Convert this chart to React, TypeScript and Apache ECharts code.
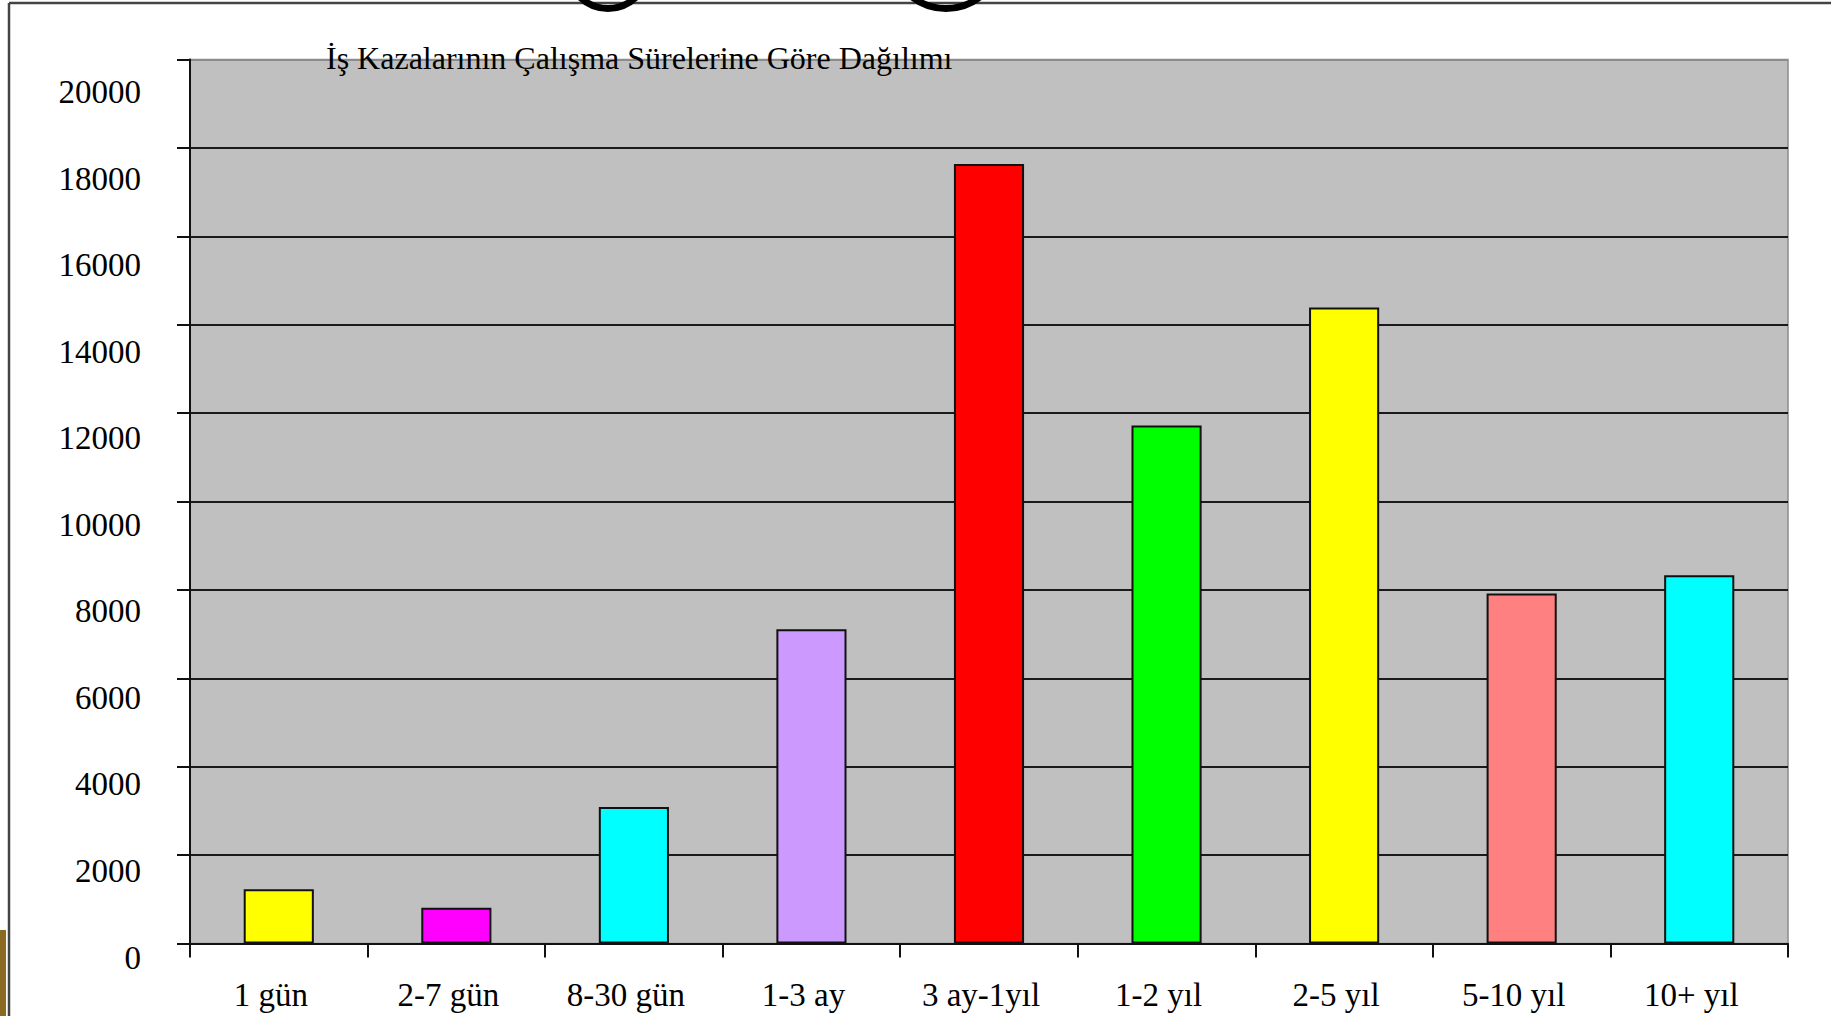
import React, { useEffect, useRef } from "react";
import * as echarts from "echarts";

const categories = ["1 gün", "2-7 gün", "8-30 gün", "1-3 ay", "3 ay-1yıl", "1-2 yıl", "2-5 yıl", "5-10 yıl", "10+ yıl"];
const values = [1225, 810, 3090, 7110, 17640, 11720, 14390, 7920, 8330];
const barColors = ["#FFFF00", "#FF00FF", "#00FFFF", "#CC99FF", "#FF0000", "#00FF00", "#FFFF00", "#FF8080", "#00FFFF"];
const chartTitle = "İş Kazalarının Çalışma Sürelerine Göre Dağılımı";
const yMin = 0;
const yMax = 20000;
const yStep = 2000;

export default function App() {
  const ref = useRef<HTMLDivElement>(null);
  useEffect(() => {
    if (!ref.current) return;
    const chart = echarts.init(ref.current, undefined, { renderer: "svg" });
    const serif = "'Liberation Serif', 'Times New Roman', serif";
    const gridColors = Array.from({ length: (yMax - yMin) / yStep + 1 }, (_, i) =>
      i === (yMax - yMin) / yStep ? "#8c8c8c" : "#1a1a1a"
    );
    chart.setOption({
      animation: false,
      backgroundColor: "#ffffff",
      textStyle: { fontFamily: serif },
      grid: [
        {
          left: 190,
          right: 43,
          top: 59.6,
          bottom: 72.5,
          show: true,
          backgroundColor: "#C0C0C0",
          borderColor: "#8c8c8c",
          borderWidth: 1.5,
        },
        {
          left: 190,
          right: 43,
          top: 92.2,
          bottom: 58.5,
          show: false,
        },
      ],
      xAxis: [
        {
          type: "category",
          gridIndex: 0,
          data: categories,
          axisLine: { show: true, lineStyle: { color: "#111", width: 2 } },
          axisTick: { show: true, length: 14, lineStyle: { color: "#111", width: 2 } },
          axisLabel: {
            interval: 0,
            color: "#000",
            fontFamily: serif,
            fontSize: 33,
            lineHeight: 33,
            margin: 35,
            padding: [0, 16, 0, 0],
          },
        },
        { type: "value", gridIndex: 1, min: 0, max: 1, show: false },
      ],
      yAxis: [
        {
          type: "value",
          gridIndex: 0,
          min: yMin,
          max: yMax,
          interval: yStep,
          axisLine: { show: true, lineStyle: { color: "#111", width: 2 } },
          axisTick: { show: true, length: 13, lineStyle: { color: "#111", width: 2 } },
          axisLabel: { show: false },
          splitLine: { show: true, lineStyle: { color: gridColors, width: 2 } },
        },
        {
          type: "value",
          gridIndex: 1,
          min: yMin,
          max: yMax,
          interval: yStep,
          axisLine: { show: false },
          axisTick: { show: false },
          splitLine: { show: false },
          axisLabel: {
            color: "#000",
            fontFamily: serif,
            fontSize: 33,
            margin: 49,
            formatter: (v: number) => String(v),
          },
        },
      ],
      series: [
        {
          type: "bar",
          xAxisIndex: 0,
          yAxisIndex: 0,
          barWidth: "39.5%",
          data: values.map((v, i) => ({
            value: v,
            itemStyle: { color: barColors[i], borderColor: "#111", borderWidth: 2 },
          })),
        },
      ],
      graphic: [
        {
          type: "line",
          shape: { x1: 9, y1: 3, x2: 9, y2: 1016 },
          style: { stroke: "#444", lineWidth: 2.5 },
        },
        {
          type: "line",
          shape: { x1: 9, y1: 3, x2: 1831, y2: 3 },
          style: { stroke: "#444", lineWidth: 2.5 },
        },
        {
          type: "arc",
          shape: { cx: 608, cy: -31.5, r: 40, startAngle: 0, endAngle: Math.PI },
          style: { stroke: "#000", lineWidth: 7, fill: "none" },
        },
        {
          type: "arc",
          shape: { cx: 946, cy: -46.5, r: 55, startAngle: 0, endAngle: Math.PI },
          style: { stroke: "#000", lineWidth: 7, fill: "none" },
        },
        {
          type: "rect",
          shape: { x: 0, y: 930, width: 6, height: 86 },
          style: { fill: "#8a6a20" },
        },
        {
          type: "text",
          left: 326,
          top: 42,
          z: 100,
          style: {
            text: chartTitle,
            fontFamily: serif,
            fontSize: 32,
            fill: "#000",
          },
        },
      ],
    });
    return () => chart.dispose();
  }, []);
  return (
    <div
      ref={ref}
      style={{ position: "absolute", left: 0, top: 0, width: 1831, height: 1016 }}
    />
  );
}
